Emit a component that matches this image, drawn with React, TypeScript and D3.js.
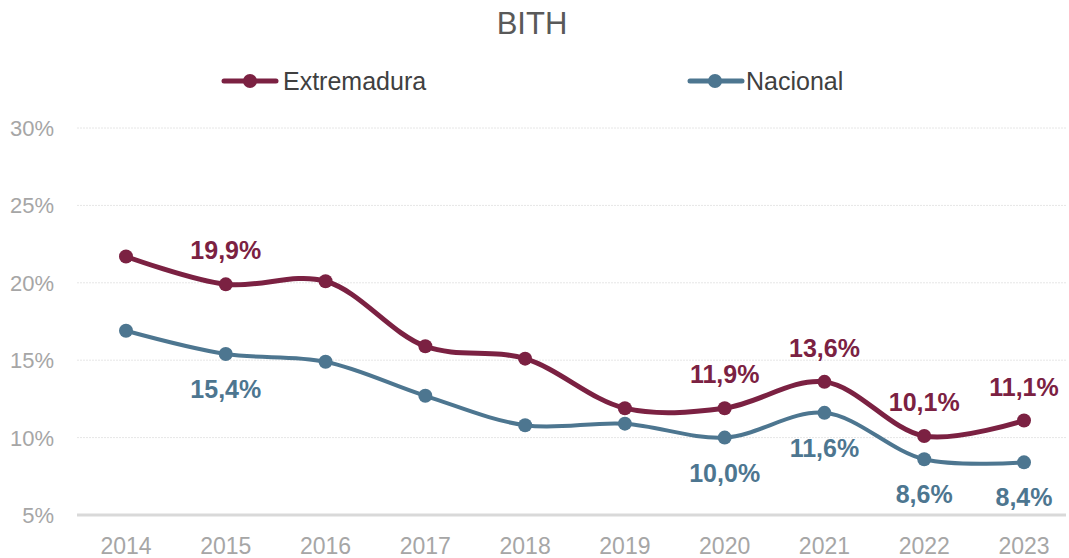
import React from "react";
import * as d3 from "d3";

const years = ["2014","2015","2016","2017","2018","2019","2020","2021","2022","2023"];
const extremadura = [21.7, 19.9, 20.1, 15.9, 15.1, 11.9, 11.9, 13.6, 10.1, 11.1];
const nacional = [16.9, 15.4, 14.9, 12.7, 10.8, 10.9, 10.0, 11.6, 8.6, 8.4];
const yTicks = [5, 10, 15, 20, 25, 30];
const labelIdx = [1, 6, 7, 8, 9];

const W = 1069, H = 558;
const cExt = "#7B2142";
const cNac = "#4D7690";
const sans = "'Liberation Sans', Arial, sans-serif";

export default function App() {
  const x = d3.scalePoint<string>().domain(years).range([126, 1024]);
  const y = d3.scaleLinear().domain([5, 30]).range([515, 128]);
  const line = d3.line<number>()
    .x((_, i) => x(years[i])!)
    .y(d => y(d))
    .curve(d3.curveCatmullRom.alpha(0.5));
  const fmt = (v: number) => v.toFixed(1).replace(".", ",") + "%";

  return (
    <svg width={W} height={H} style={{ position: "absolute", left: 0, top: 0, background: "#fff" }}>
      <text x={532} y={34} textAnchor="middle" fontFamily={sans} fontSize={31} fill="#595959">BITH</text>
      {/* legend */}
      <g>
        <line x1={224} x2={276} y1={81} y2={81} stroke={cExt} strokeWidth={5} strokeLinecap="round" />
        <circle cx={250} cy={81} r={7} fill={cExt} />
        <text x={283} y={90} fontFamily={sans} fontSize={25} fill="#404040">Extremadura</text>
        <line x1={690} x2={742} y1={81} y2={81} stroke={cNac} strokeWidth={5} strokeLinecap="round" />
        <circle cx={715} cy={81} r={7} fill={cNac} />
        <text x={746} y={90} fontFamily={sans} fontSize={25} fill="#404040">Nacional</text>
      </g>
      {/* grid */}
      {yTicks.map(t => (
        <g key={t}>
          {t !== 5 && <line x1={77} x2={1066} y1={y(t)} y2={y(t)} stroke="#E6E6E6" strokeWidth={1} strokeDasharray="2,1" />}
          <text x={54} y={y(t) + 8} textAnchor="end" fontFamily={sans} fontSize={22} fill="#A6A6A6">{t}%</text>
        </g>
      ))}
      <line x1={77} x2={1066} y1={y(5)} y2={y(5)} stroke="#D9D9D9" strokeWidth={3} />
      {years.map(yr => (
        <text key={yr} x={x(yr)} y={554} textAnchor="middle" fontFamily={sans} fontSize={23} fill="#A6A6A6">{yr}</text>
      ))}
      {/* lines */}
      <path d={line(nacional)!} fill="none" stroke={cNac} strokeWidth={4} />
      <path d={line(extremadura)!} fill="none" stroke={cExt} strokeWidth={5} />
      {nacional.map((v, i) => <circle key={"n" + i} cx={x(years[i])} cy={y(v)} r={7} fill={cNac} />)}
      {extremadura.map((v, i) => <circle key={"e" + i} cx={x(years[i])} cy={y(v)} r={7} fill={cExt} />)}
      {labelIdx.map(i => (
        <text key={"le" + i} x={x(years[i])} y={y(extremadura[i]) - 25} textAnchor="middle" fontFamily={sans} fontWeight="bold" fontSize={25} fill={cExt}>{fmt(extremadura[i])}</text>
      ))}
      {labelIdx.map(i => (
        <text key={"ln" + i} x={x(years[i])} y={y(nacional[i]) + 44} textAnchor="middle" fontFamily={sans} fontWeight="bold" fontSize={25} fill={cNac}>{fmt(nacional[i])}</text>
      ))}
    </svg>
  );
}
